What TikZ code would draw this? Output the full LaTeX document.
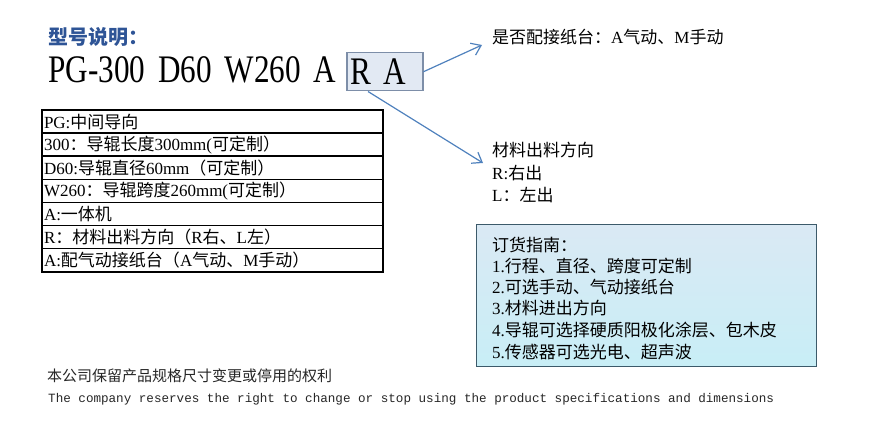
\documentclass[tikz,border=0pt]{standalone}
\usepackage{graphicx}
\usepackage{fontspec}
\setmainfont{Liberation Serif}
\newfontfamily\zhfont{Noto Sans CJK SC}
\newfontfamily\footfont{Liberation Mono}
\newcommand{\zh}[1]{{\zhfont #1}}
\newcommand{\narrow}[1]{\scalebox{0.8}[1]{#1}}
\usetikzlibrary{arrows.meta}

\definecolor{titleblue}{RGB}{46,84,150}
\definecolor{arrowblue}{RGB}{79,129,189}
\definecolor{boxedge}{RGB}{125,142,168}
\definecolor{boxfill}{RGB}{226,233,243}
\definecolor{guidetop}{RGB}{218,233,244}
\definecolor{guidebot}{RGB}{200,238,246}
\definecolor{guideedge}{RGB}{60,90,106}

\begin{document}
\begin{tikzpicture}[x=1pt,y=-1pt,
  txt/.style={anchor=west,inner sep=0pt,font=\fontsize{17}{20}\selectfont},
  bigtxt/.style={font=\fontsize{39}{40}\selectfont},
  rowbox/.style={draw,line width=1.6pt,anchor=north west,minimum width=341pt,
    minimum height=23.1pt,text width=337pt,inner xsep=2pt,inner ysep=0pt,
    outer sep=0pt,align=left,font=\fontsize{17}{20}\selectfont},
  pointer/.style={-{Straight Barb[length=9pt,width=13pt]},arrowblue,line width=1.2pt}]

\useasboundingbox (0,0) rectangle (878,441);

% Heading
\node[txt,text=titleblue,font=\zhfont\bfseries\fontsize{20}{22}\selectfont] (title) at (48,37) {型号说明：};

% Model code
\node[txt,bigtxt] (model) at (48,70) {\narrow{PG-300\hspace{16pt}D60\hspace{16pt}W260\hspace{16pt}A}};
\node[bigtxt,draw=boxedge,fill=boxfill,line width=1.5pt,anchor=north west,
  minimum width=76pt,minimum height=38pt,text width=68pt,inner xsep=4pt,
  inner ysep=0pt,align=left] (optbox) at (346,52) {\narrow{R\hspace{15pt}A}};

% Notes on the right
\node[txt] (standtext) at (492,37) {\zh{是否配接纸台：}A\zh{气动、}M\zh{手动}};
\node[txt] (dirtext) at (492,150) {\zh{材料出料方向}};
\node[txt] (dirR) at (492,173) {R:\zh{右出}};
\node[txt] (dirL) at (492,195) {L\zh{：左出}};

% Pointers from the box
\coordinate (tipstand) at (482,45);
\coordinate (tipdir) at (483,163);
\draw[pointer] (optbox.east) -- (tipstand);
\draw[pointer] ([xshift=22pt]optbox.south west) -- (tipdir);

% Table of codes
\node[rowbox] (row1) at (42,110) {PG:\zh{中间导向}};
\node[rowbox] (row2) at (42,133.1) {300\zh{：导辊长度}300mm(\zh{可定制）}};
\node[rowbox] (row3) at (42,156.2) {D60:\zh{导辊直径}60mm\zh{（可定制）}};
\node[rowbox] (row4) at (42,179.3) {W260\zh{：导辊跨度}260mm(\zh{可定制）}};
\node[rowbox] (row5) at (42,202.4) {A:\zh{一体机}};
\node[rowbox] (row6) at (42,225.5) {R\zh{：材料出料方向（}R\zh{右、}L\zh{左）}};
\node[rowbox] (row7) at (42,248.6) {A:\zh{配气动接纸台（}A\zh{气动、}M\zh{手动）}};

% Ordering guide
\node[draw=guideedge,line width=1.2pt,top color=guidetop,bottom color=guidebot,
  anchor=north west,minimum width=340pt,minimum height=142pt] (guide) at (476,224) {};
\node[txt] (guide0) at (492,245) {\zh{订货指南：}};
\node[txt] (guide1) at (492,266) {1.\zh{行程、直径、跨度可定制}};
\node[txt] (guide2) at (492,287) {2.\zh{可选手动、气动接纸台}};
\node[txt] (guide3) at (492,308) {3.\zh{材料进出方向}};
\node[txt] (guide4) at (492,330) {4.\zh{导辊可选择硬质阳极化涂层、包木皮}};
\node[txt] (guide5) at (492,352) {5.\zh{传感器可选光电、超声波}};

% Footer
\node[txt,text=black!85,font=\fontsize{15}{16}\selectfont] (notezh) at (47,376) {\zh{本公司保留产品规格尺寸变更或停用的权利}};
\node[txt,text=black!85,font=\footfont\fontsize{12.6}{15}\selectfont] (noteen) at (48,399) {The company reserves the right to change or stop using the product specifications and dimensions};

\end{tikzpicture}
\end{document}
